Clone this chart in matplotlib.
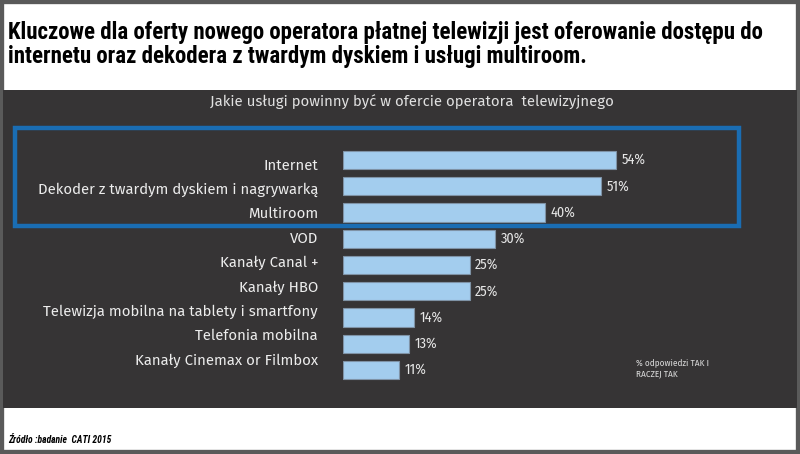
import matplotlib
matplotlib.use("Agg")
import matplotlib.pyplot as plt
from matplotlib.patches import Rectangle
from matplotlib import font_manager

categories = ["Internet", "Dekoder z twardym dyskiem i nagrywarką", "Multiroom", "VOD",
              "Kanały Canal +", "Kanały HBO", "Telewizja mobilna na tablety i smartfony",
              "Telefonia mobilna", "Kanały Cinemax or Filmbox"]
values = [54, 51, 40, 30, 25, 25, 14, 13, 11]
value_labels = [f"{v}%" for v in values]

title_lines = ["Kluczowe dla oferty nowego operatora płatnej telewizji jest oferowanie dostępu do",
               "internetu oraz dekodera z twardym dyskiem i usługi multiroom."]
subtitle = "Jakie usługi powinny być w ofercie operatora  telewizyjnego"
note = "% odpowiedzi TAK I\nRACZEJ TAK"
source = "Źródło :badanie  CATI 2015"

names = {f.name for f in font_manager.fontManager.ttflist}
def pick(prefs):
    for p in prefs:
        if p in names:
            return p
    return "DejaVu Sans"

cond = pick(["Roboto Condensed", "PT Sans Narrow", "Fira Sans Condensed", "Open Sans Condensed",
             "Barlow Condensed", "Liberation Sans Narrow", "Arimo", "Liberation Sans"])
body = pick(["Fira Sans", "Open Sans", "Noto Sans", "DejaVu Sans"])
smallf = pick(["Fira Sans Condensed", "Roboto Condensed", "PT Sans Narrow", "Open Sans"])

W, H = 800, 454
fig = plt.figure(figsize=(8, 4.54), dpi=100)
fig.patch.set_facecolor("white")
renderer = fig.canvas.get_renderer()

def fx(px): return px / W
def fy(py): return 1 - py / H

def fit(t, target_px):
    """scale text font size so that its rendered width matches target_px"""
    for _ in range(3):
        w = t.get_window_extent(renderer).width
        if w > 0:
            t.set_fontsize(t.get_fontsize() * target_px / w)

# outer gray border and dark panel
fig.add_artist(Rectangle((0, 0), 1, 1, transform=fig.transFigure, facecolor="white",
                         edgecolor="#5a5a5a", linewidth=6, zorder=0))
fig.add_artist(Rectangle((fx(3), fy(408)), fx(794), (408 - 90) / H, transform=fig.transFigure,
                         facecolor="#363435", edgecolor="none", zorder=0.5))

t1 = fig.text(fx(8), fy(33), title_lines[0], fontsize=14, fontweight="bold", family=cond,
              color="black", va="center", ha="left")
fit(t1, 754)
t2 = fig.text(fx(8), fy(57), title_lines[1], fontsize=t1.get_fontsize(), fontweight="bold",
              family=cond, color="black", va="center", ha="left")

st = fig.text(fx(412), fy(102), subtitle, fontsize=9.5, family=body, color="#e0e0e0",
              ha="center", va="center")
fit(st, 405)

# bars axes: x0 at px 343, 5.06 px per %
x0, ppu = 343, 5.06
ax = fig.add_axes([fx(x0), fy(383.1), 60 * ppu / W, (383.1 - 146.9) / H], zorder=3)
ax.set_facecolor("none")
idx = list(range(len(categories)))
ax.barh(idx, values, height=0.69, color="#a3cdee", edgecolor="#7f93a6", linewidth=0.8)
vts = []
for i, (v, lab) in enumerate(zip(values, value_labels)):
    vts.append(ax.text(v + 1.1, i, lab, color="#e6e6e6", fontsize=8.5, family=smallf,
                       va="center", ha="left"))
fit(vts[0], 24)
for t in vts[1:]:
    t.set_fontsize(vts[0].get_fontsize())
ax.set_xlim(0, 60)
ax.set_ylim(8.5, -0.5)
ax.set_yticks([0.15 + 0.93 * i for i in idx])
ax.set_yticklabels(categories, color="#ececec", fontsize=9.3, family=body)
ax.tick_params(axis="y", length=0, pad=18)
ax.set_xticks([])
for s in ax.spines.values():
    s.set_visible(False)
fig.canvas.draw()
lbl = ax.get_yticklabels()[1]
w = lbl.get_window_extent(renderer).width
fs = 9.3 * 283 / w
for l in ax.get_yticklabels():
    l.set_fontsize(fs)

# highlight rectangle
fig.add_artist(Rectangle((fx(15), fy(226)), fx(724), (226 - 128) / H, transform=fig.transFigure,
                         facecolor="none", edgecolor="#1a6db3", linewidth=3.2, zorder=5))

nt = fig.text(fx(636), fy(368), note, fontsize=6, family=smallf, color="#d8d8d8",
              ha="left", va="center", linespacing=1.35)
fit(nt, 73)
sc = fig.text(fx(8), fy(440), source, fontsize=6.5, family=cond, color="black",
              fontweight="bold", style="italic", ha="left", va="center")
fit(sc, 103)

fig.savefig("out.png", dpi=100)
